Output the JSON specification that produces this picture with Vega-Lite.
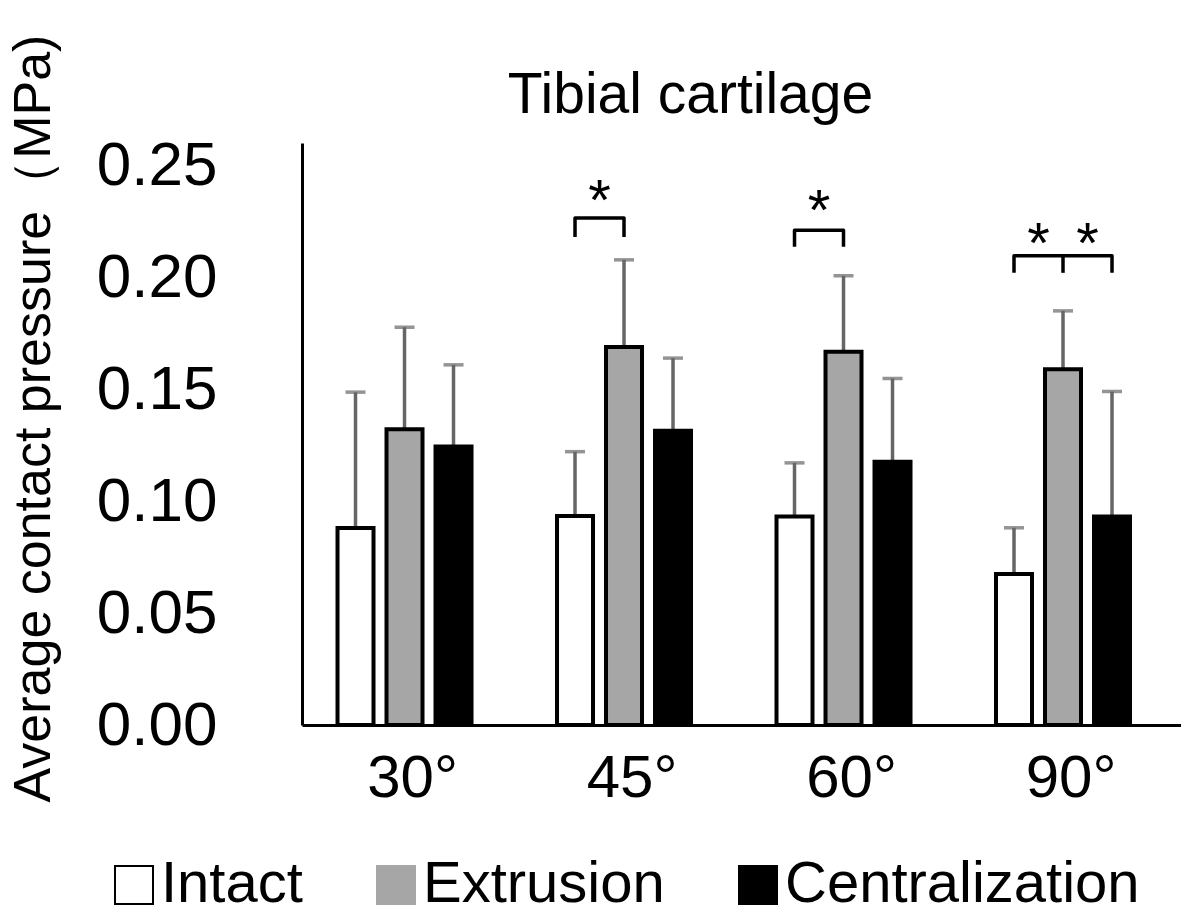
{
  "$schema": "https://vega.github.io/schema/vega-lite/v6.json",
  "width": 879,
  "height": 582,
  "autosize": {"type": "none"},
  "padding": {"left": 302, "top": 143, "right": 0, "bottom": 194},
  "background": "white",
  "config": {"view": {"stroke": null}, "font": "Liberation Sans"},
  "title": {
    "text": "Tibial cartilage",
    "fontSize": 57,
    "fontWeight": "normal",
    "font": "Liberation Sans",
    "color": "black",
    "anchor": "middle",
    "dx": -51,
    "offset": -136,
    "baseline": "alphabetic"
  },
  "datasets": {
    "bars": [
      {"angle": "30°", "condition": "Intact", "mean": 0.0880, "upper": 0.1487},
      {"angle": "30°", "condition": "Extrusion", "mean": 0.1321, "upper": 0.1777},
      {"angle": "30°", "condition": "Centralization", "mean": 0.1244, "upper": 0.1609},
      {"angle": "45°", "condition": "Intact", "mean": 0.0934, "upper": 0.1221},
      {"angle": "45°", "condition": "Extrusion", "mean": 0.1689, "upper": 0.2078},
      {"angle": "45°", "condition": "Centralization", "mean": 0.1314, "upper": 0.1639},
      {"angle": "60°", "condition": "Intact", "mean": 0.0931, "upper": 0.1171},
      {"angle": "60°", "condition": "Extrusion", "mean": 0.1667, "upper": 0.2007},
      {"angle": "60°", "condition": "Centralization", "mean": 0.1176, "upper": 0.1548},
      {"angle": "90°", "condition": "Intact", "mean": 0.0675, "upper": 0.0881},
      {"angle": "90°", "condition": "Extrusion", "mean": 0.1589, "upper": 0.1850},
      {"angle": "90°", "condition": "Centralization", "mean": 0.0931, "upper": 0.1490}
    ],
    "brackets": [
      {"id": "b45", "angle": "45°", "slot": "Intact", "y": 0.2180, "ord": 1},
      {"id": "b45", "angle": "45°", "slot": "Intact", "y": 0.2265, "ord": 2},
      {"id": "b45", "angle": "45°", "slot": "Extrusion", "y": 0.2265, "ord": 3},
      {"id": "b45", "angle": "45°", "slot": "Extrusion", "y": 0.2180, "ord": 4},
      {"id": "b60", "angle": "60°", "slot": "Intact", "y": 0.2136, "ord": 1},
      {"id": "b60", "angle": "60°", "slot": "Intact", "y": 0.2210, "ord": 2},
      {"id": "b60", "angle": "60°", "slot": "Extrusion", "y": 0.2210, "ord": 3},
      {"id": "b60", "angle": "60°", "slot": "Extrusion", "y": 0.2136, "ord": 4},
      {"id": "b90", "angle": "90°", "slot": "Intact", "y": 0.2020, "ord": 1},
      {"id": "b90", "angle": "90°", "slot": "Intact", "y": 0.2096, "ord": 2},
      {"id": "b90", "angle": "90°", "slot": "Centralization", "y": 0.2096, "ord": 3},
      {"id": "b90", "angle": "90°", "slot": "Centralization", "y": 0.2020, "ord": 4},
      {"id": "b90m", "angle": "90°", "slot": "Extrusion", "y": 0.2096, "ord": 1},
      {"id": "b90m", "angle": "90°", "slot": "Extrusion", "y": 0.2020, "ord": 2}
    ],
    "stars": [
      {"angle": "45°", "slot": "Intact–Extrusion", "y": 0.2256, "label": "*"},
      {"angle": "60°", "slot": "Intact–Extrusion", "y": 0.2212, "label": "*"},
      {"angle": "90°", "slot": "Intact–Extrusion", "y": 0.2064, "label": "*"},
      {"angle": "90°", "slot": "Extrusion–Centralization", "y": 0.2064, "label": "*"}
    ]
  },
  "encoding": {
    "x": {
      "field": "angle",
      "type": "nominal",
      "scale": {
        "domain": ["30°", "45°", "60°", "90°"],
        "paddingInner": 0.3872,
        "paddingOuter": 0.1959,
        "align": 0.41
      },
      "axis": {
        "title": null,
        "ticks": false,
        "grid": false,
        "domainColor": "black",
        "domainWidth": 3,
        "labelFontSize": 60,
        "labelFont": "Liberation Sans",
        "labelColor": "black",
        "labelPadding": 24,
        "labelAngle": 0,
        "labelOffset": 8
      }
    },
    "xOffset": {
      "field": "slot",
      "type": "nominal",
      "scale": {
        "domain": ["Intact", "Intact–Extrusion", "Extrusion", "Extrusion–Centralization", "Centralization"],
        "paddingInner": 0,
        "paddingOuter": 0.245
      }
    },
    "y": {
      "type": "quantitative",
      "scale": {"domain": [0, 0.26], "nice": false, "zero": true},
      "axis": {
        "title": "Average contact pressure（MPa)",
        "titleFontSize": 52,
        "titleFont": "Liberation Sans",
        "titleFontWeight": "normal",
        "titleColor": "black",
        "titleAngle": -90,
        "titleX": -269,
        "titleY": 275,
        "titleAlign": "center",
        "titleBaseline": "middle",
        "values": [0, 0.05, 0.1, 0.15, 0.2, 0.25],
        "format": ".2f",
        "labelFontSize": 62,
        "labelFont": "Liberation Sans",
        "labelColor": "black",
        "labelPadding": 85,
        "labelFlush": false,
        "labelOverlap": false,
        "ticks": false,
        "grid": false,
        "domainColor": "black",
        "domainWidth": 3
      }
    }
  },
  "layer": [
    {
      "data": {"name": "bars"},
      "mark": {"type": "rule", "color": "#666666", "strokeWidth": 3.5},
      "encoding": {
        "xOffset": {"field": "condition"},
        "y": {"field": "mean"},
        "y2": {"field": "upper"}
      }
    },
    {
      "data": {"name": "bars"},
      "mark": {"type": "tick", "color": "#666666", "size": 20, "thickness": 3.5, "orient": "horizontal"},
      "encoding": {
        "xOffset": {"field": "condition"},
        "y": {"field": "upper"}
      }
    },
    {
      "data": {"name": "bars"},
      "mark": {"type": "bar", "width": 36, "stroke": "black", "strokeWidth": 4},
      "encoding": {
        "xOffset": {"field": "condition"},
        "y": {"field": "mean"},
        "fill": {
          "field": "condition",
          "type": "nominal",
          "scale": {"domain": ["Intact", "Extrusion", "Centralization"], "range": ["#ffffff", "#a6a6a6", "#000000"]},
          "legend": {
            "orient": "none",
            "legendX": -197,
            "legendY": 713,
            "direction": "horizontal",
            "title": null,
            "symbolType": "square",
            "symbolSize": 1444,
            "symbolStrokeWidth": 2,
            "symbolStrokeColor": "black",
            "symbolOpacity": 1,
            "labelFontSize": 58,
            "labelFont": "Liberation Sans",
            "labelColor": "black",
            "labelOffset": -2,
            "labelLimit": 0,
            "columnPadding": 64,
            "encode": {
              "symbols": {
                "update": {
                  "stroke": {"signal": "datum.value === 'Extrusion' ? '#a6a6a6' : '#000000'"},
                  "strokeWidth": {"value": 2}
                }
              }
            }
          }
        }
      }
    },
    {
      "data": {"name": "brackets"},
      "mark": {"type": "line", "color": "black", "strokeWidth": 3.5, "strokeJoin": "round"},
      "encoding": {
        "y": {"field": "y"},
        "detail": {"field": "id", "type": "nominal"},
        "order": {"field": "ord", "type": "quantitative"}
      }
    },
    {
      "data": {"name": "stars"},
      "mark": {"type": "text", "fontSize": 58, "font": "Liberation Sans", "color": "black", "align": "center", "baseline": "alphabetic"},
      "encoding": {
        "y": {"field": "y"},
        "text": {"field": "label"}
      }
    }
  ]
}
